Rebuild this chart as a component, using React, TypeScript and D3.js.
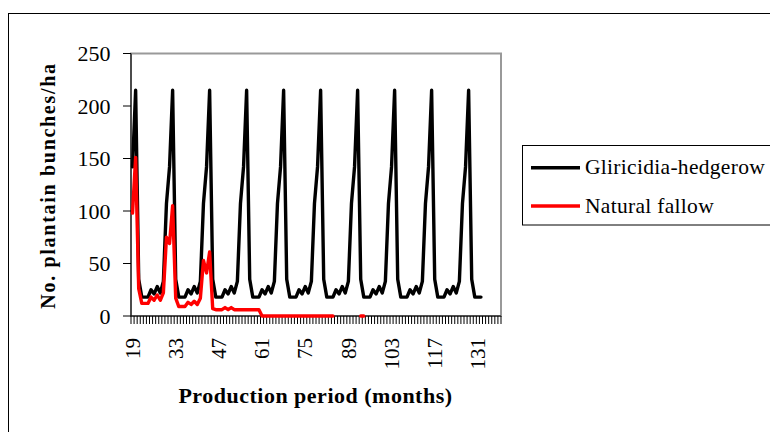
import React, { useEffect, useState } from "react";
import * as d3 from "d3";

// Categories: production months 19..138
const months: number[] = d3.range(19, 139);
const xTickLabels: number[] = [19, 33, 47, 61, 75, 89, 103, 117, 131];
const yTicks: number[] = [0, 50, 100, 150, 200, 250];

// Gliricidia-hedgerow, months 19..132
const gliricidia: number[] = [
  142, 215,
  35, 18, 18, 18, 25, 21, 28, 22, 33, 107, 142, 215,
  35, 18, 18, 18, 25, 21, 28, 22, 33, 107, 142, 215,
  35, 18, 18, 18, 25, 21, 28, 22, 33, 107, 142, 215,
  35, 18, 18, 18, 25, 21, 28, 22, 33, 107, 142, 215,
  35, 18, 18, 18, 25, 21, 28, 22, 33, 107, 142, 215,
  35, 18, 18, 18, 25, 21, 28, 22, 33, 107, 142, 215,
  35, 18, 18, 18, 25, 21, 28, 22, 33, 107, 142, 215,
  35, 18, 18, 18, 25, 21, 28, 22, 33, 107, 142, 215,
  35, 18, 18, 18, 25, 21, 28, 22, 33, 107, 142, 215,
  35, 18, 18, 18,
];

// Natural fallow, months 19..94 (null = missing)
const naturalFallow: (number | null)[] = [
  98, 151, 26, 12, 12, 12, 18, 15, 20, 15, 22, 75, 69, 105,
  17, 9, 9, 9, 13, 11, 14, 11, 17, 53, 41, 61,
  7, 6, 6, 6, 8, 6, 8, 6, 6, 6, 6, 6, 6, 6, 6, 6,
  0, 0, 0, 0, 0, 0, 0, 0, 0, 0, 0, 0, 0, 0, 0, 0, 0, 0, 0, 0, 0, 0, 0, 0,
  null, null, null, null, null, null, null, null,
  0, 0,
];

const seriesNames = ["Gliricidia-hedgerow", "Natural fallow"];
const seriesColors = ["#000000", "#ff0000"];

export default function App() {
  const [ver, setVer] = useState(0);
  useEffect(() => {
    const fs: any = (document as any).fonts;
    if (fs && fs.load) {
      Promise.all([
        fs.load('22px "Liberation Serif"'),
        fs.load('bold 22px "Liberation Serif"'),
      ])
        .then(() => fs.ready)
        .then(() => setVer(1))
        .catch(() => setVer(1));
    }
  }, []);

  const left = 131, right = 501, top = 53.5, bottom = 316;
  const x = d3.scaleBand<number>().domain(months).range([left, right]).paddingInner(0).paddingOuter(0);
  const bw = x.bandwidth();
  const cx = (m: number) => (x(m) as number) + bw / 2;
  const y = d3.scaleLinear().domain([0, 250]).range([bottom, top]);

  const lineGen = d3
    .line<{ m: number; v: number | null }>()
    .defined((d) => d.v !== null)
    .x((d) => cx(d.m))
    .y((d) => y(d.v as number));

  const blackPts = gliricidia.map((v, i) => ({ m: months[i], v }));
  const redPts = naturalFallow.map((v, i) => ({ m: months[i], v }));

  const tickXs = months.map((m) => x(m) as number).concat([right]);
  const ts = { fontFamily: "Liberation Serif" } as React.CSSProperties;
  const tsb = { fontFamily: "Liberation Serif", fontWeight: 700 } as React.CSSProperties;

  return (
    <svg key={ver} width={770} height={432} style={{ position: "absolute", left: 0, top: 0 }}>
      <rect x={8.5} y={13.5} width={800} height={500} fill="#fff" stroke="#000" strokeWidth={1} />

      {/* plot area border */}
      <rect x={left} y={top} width={right - left} height={bottom - top} fill="#fff" stroke="#999" strokeWidth={2} />

      {/* y axis */}
      <line x1={left} x2={left} y1={top} y2={bottom} stroke="#333" strokeWidth={1.5} />
      {yTicks.map((t) => (
        <g key={t}>
          <line x1={left - 8} x2={left} y1={y(t)} y2={y(t)} stroke="#000" strokeWidth={1} />
          <text x={110.5} y={y(t) + 7.5} textAnchor="end" fontSize={22} style={ts}>
            {String(t)}
          </text>
        </g>
      ))}

      {/* x axis */}
      <line x1={left} x2={right} y1={bottom} y2={bottom} stroke="#000" strokeWidth={1} />
      {tickXs.map((tx, i) => (
        <line key={i} x1={tx} x2={tx} y1={bottom} y2={bottom + 8} stroke="#000" strokeWidth={1} />
      ))}
      {xTickLabels.map((m) => (
        <text
          key={m}
          transform={`translate(${cx(m) + 7.2},338) rotate(-90)`}
          textAnchor="end"
          fontSize={21}
          style={ts}
        >
          {String(m)}
        </text>
      ))}

      {/* series */}
      <path d={lineGen(blackPts) || ""} fill="none" stroke={seriesColors[0]} strokeWidth={3.4} strokeLinejoin="round" strokeLinecap="round" />
      <path d={lineGen(redPts) || ""} fill="none" stroke={seriesColors[1]} strokeWidth={3.4} strokeLinejoin="round" strokeLinecap="round" />

      {/* axis titles */}
      <text x={315.5} y={403} textAnchor="middle" fontSize={22} letterSpacing={0.5} style={tsb}>
        Production period (months)
      </text>
      <text
        transform={`translate(55.4,185.5) rotate(-90)`}
        textAnchor="middle"
        fontSize={20}
        letterSpacing={1.7}
        style={tsb}
      >
        No. plantain bunches/ha
      </text>

      {/* legend */}
      <rect x={522.5} y={145.5} width={300} height={79.5} fill="#fff" stroke="#000" strokeWidth={1} />
      {seriesNames.map((name, i) => {
        const ly = i === 0 ? 167.7 : 206;
        return (
          <g key={name}>
            <line x1={531} x2={580} y1={ly} y2={ly} stroke={seriesColors[i]} strokeWidth={3.4} />
            <text x={585} y={ly + 6.5} fontSize={21.5} letterSpacing={0.3} style={ts}>
              {name}
            </text>
          </g>
        );
      })}
    </svg>
  );
}
